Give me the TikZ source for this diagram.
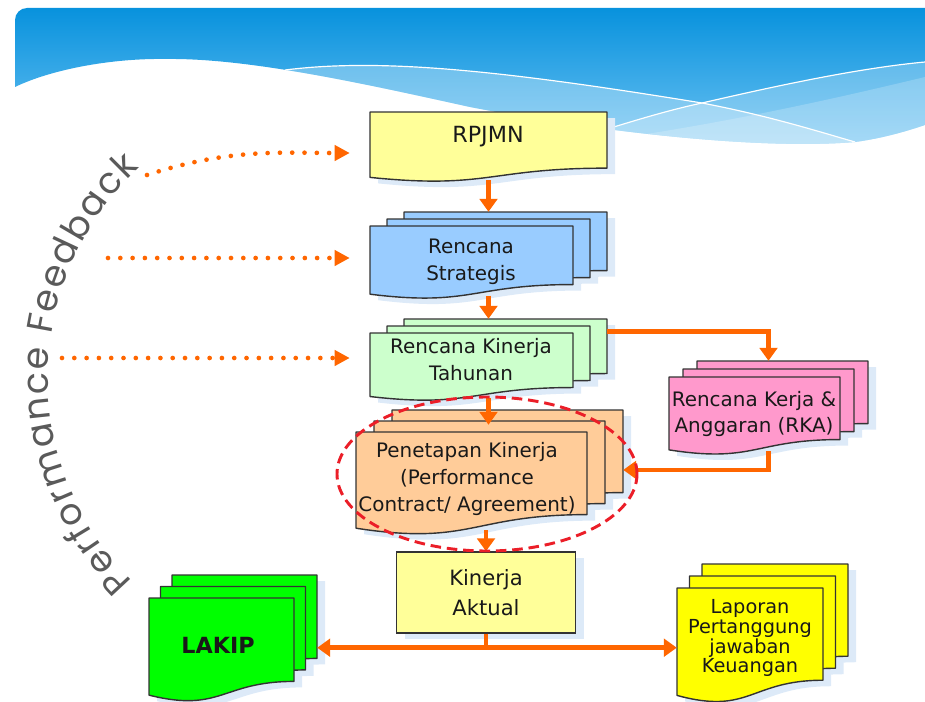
\documentclass[tikz,border=0pt]{standalone}
\usepackage{fontspec}
\usepackage{tikz}
\usetikzlibrary{positioning, calc, fit, arrows.meta, shadows, decorations.text}
\newfontfamily\boxfont{DejaVu Sans}
\newfontfamily\fbfont{Poppins}
\definecolor{FlowOrange}{RGB}{255,102,0}
\definecolor{FocusRed}{RGB}{235,30,40}
\definecolor{PaleYellow}{RGB}{255,255,153}
\definecolor{SkyBlue}{RGB}{153,204,255}
\definecolor{MintGreen}{RGB}{204,255,204}
\definecolor{Peach}{RGB}{255,204,153}
\definecolor{Pink}{RGB}{255,153,204}
\definecolor{LimeGreen}{RGB}{0,255,0}
\definecolor{BrightYellow}{RGB}{255,255,0}
\definecolor{HeaderTop}{RGB}{8,146,221}
\definecolor{HeaderBottom}{RGB}{110,195,243}
\definecolor{SoftShadow}{RGB}{221,234,248}
\definecolor{FeedbackGrey}{RGB}{90,90,90}
\tikzset{
    sheet/.style={
        draw=black!80, line width=1.2pt, line join=round
    },
    sheetshadow/.style={
        fill=SoftShadow
    },
    lbl/.style={
        font=\boxfont\fontsize{17}{23}\selectfont, align=center, text=black!90, inner sep=0pt
    },
    flow/.style={
        -{Triangle[length=11pt,width=15pt]}, FlowOrange, line width=4pt
    },
    fbarrow/.style={
        -{Triangle[length=13pt,width=13pt]}, FlowOrange, line width=4pt,
        line cap=round, dash pattern=on 0pt off 10.5pt, shorten >=0.6cm
    }
}
% one page with a wavy bottom: x, y (top left, measured downwards), w, h, style
\newcommand{\docpage}[5]{%
  \path[#5] ({#1},{-(#2)}) -- ({#1+#3},{-(#2)}) -- ({#1+#3},{-(#2)-0.802*#4})
    .. controls ({#1+0.5*#3},{-(#2)-0.802*#4}) and ({#1+0.5*#3},{-(#2)-1.107*#4})
    .. ({#1},{-(#2)-0.934*#4}) -- cycle;}
% three pages: name, x, y, w, h, dx, dy, fill
\newcommand{\docstack}[8]{%
  \foreach \k in {2,1,0}{\docpage{#2+\k*#6+8}{#3-\k*#7+6}{#4}{#5}{sheetshadow}}%
  \foreach \k in {2,1,0}{\docpage{#2+\k*#6}{#3-\k*#7}{#4}{#5}{sheet, fill=#8}}%
  \node[inner sep=0pt, fit={({#2},{-(#3-2*#7)}) ({#2+2*#6+#4},{-(#3)-0.95*#5})}] (#1) {};%
}

\begin{document}
\begin{tikzpicture}[
        x=0.03cm, y=0.03cm,
        % Kotak biasa
        box/.style={
            lbl, draw=black!80, line width=1.2pt, fill=PaleYellow,
            drop shadow={shadow xshift=0.24cm, shadow yshift=-0.18cm, fill=SoftShadow, opacity=1}
        },
        % Elips fokus
        focus/.style={
            draw=FocusRed, line width=2.5pt, dash pattern=on 9pt off 5pt
        }
    ]
    \useasboundingbox (0,0) rectangle (925,-702);

    % --- 1. HEADER ---
    \begin{scope}
        \clip (15,-87) -- (15,-20) arc[start angle=180, end angle=90, radius=12] -- (925,-8)
            -- (925,-125) .. controls (910,-130) and (885,-138) .. (855,-142)
            .. controls (760,-150) and (600,-132) .. (470,-107)
            .. controls (370,-85) and (250,-58) .. (167,-59)
            .. controls (110,-58) and (50,-70) .. (15,-87) -- cycle;
        \shade[top color=HeaderTop, bottom color=HeaderBottom] (0,-8) rectangle (925,-150);
        \fill[white, opacity=0.3] (285,-70) .. controls (380,-58) and (500,-70) .. (702,-103)
            .. controls (770,-116) and (820,-132) .. (855,-142) -- (855,-170) -- (285,-170) -- cycle;
        \fill[white, opacity=0.25] (540,-150) .. controls (620,-125) and (660,-112) .. (702,-103)
            .. controls (780,-85) and (860,-68) .. (925,-62) -- (925,-170) -- (540,-170) -- cycle;
        \fill[white, opacity=0.2] (640,-135) .. controls (750,-118) and (850,-95) .. (925,-77)
            -- (925,-170) -- (640,-170) -- cycle;
        \draw[white, line width=1pt] (285,-70) .. controls (380,-58) and (500,-70) .. (702,-103)
            .. controls (770,-116) and (820,-132) .. (855,-142);
        \draw[white, line width=1pt] (540,-150) .. controls (620,-125) and (660,-112) .. (702,-103)
            .. controls (780,-85) and (860,-68) .. (925,-62);
    \end{scope}

    % --- 2. PERFORMANCE FEEDBACK ---
    \path[decorate, decoration={text along path, text align=fit to path, text color=FeedbackGrey,
            text={|\fbfont\fontsize{31}{31}\selectfont|Performance Feedback}}]
        ({336+288*cos(225)},{-378+288*sin(225)}) arc[start angle=225, end angle=133, radius=288];

    % --- 3. DOKUMEN ---
    \docpage{378}{118}{237}{70}{sheetshadow}
    \docpage{370}{112}{237}{70}{sheet, fill=PaleYellow}
    \node[inner sep=0pt, fit={(370,-112) (607,-180)}] (rpjmn) {};
    \docstack{strat}{370}{226}{203}{73}{17}{7}{SkyBlue}
    \docstack{tahunan}{370}{333}{203}{68}{17}{7}{MintGreen}
    \docstack{penet}{356}{432}{231}{103}{18}{11}{Peach}
    \docstack{rka}{669}{377}{171}{78}{14}{8}{Pink}
    \docstack{lakip}{149}{598}{145}{104}{11.5}{11.5}{LimeGreen}
    \docstack{lap}{677}{588}{146}{115}{12.5}{12}{BrightYellow}

    \node[lbl, font=\boxfont\fontsize{19}{23}\selectfont] (rpjmn-t) at (488,-137) {RPJMN};
    \node[lbl] (strat-t) at (471,-262) {Rencana\\Strategis};
    \node[lbl] (tahunan-t) at (471,-360) {Rencana Kinerja\\Tahunan};
    \node[lbl] (penet-t) at (467,-479) {Penetapan Kinerja\\(Performance\\Contract/ Agreement)};
    \node[lbl] (rka-t) at (754,-414) {Rencana Kerja \&\\Anggaran (RKA)};
    \node[lbl, font=\boxfont\bfseries\fontsize{19}{23}\selectfont] (lakip-t) at (218,-645) {LAKIP};
    \node[lbl, font=\boxfont\fontsize{16.5}{17}\selectfont] (lap-t) at (750,-638) {Laporan\\Pertanggung\\jawaban\\Keuangan};
    \node[box, font=\boxfont\fontsize{18}{25}\selectfont, minimum width=5.37cm, minimum height=2.43cm] (aktual) at (486,-592.5) {Kinerja\\Aktual};

    % --- 4. PANAH ---
    \draw[flow] (rpjmn.south) -- (strat.north);
    \draw[flow] (strat.south) -- (tahunan.north);
    \draw[flow, shorten >=-0.45cm] (tahunan.south) -- (tahunan.south |- penet.north);
    \draw[flow] (aktual.north |- penet.south) -- (aktual.north);
    \draw[flow] ([yshift=-0.39cm]tahunan.north east) -| (rka.north);
    \draw[flow] (rka.south) |- (penet.east);
    \coordinate (split) at ($(aktual.south)+(0,-14)$);
    \draw[FlowOrange, line width=4pt] (aktual.south) -- (split);
    \draw[flow] (split) -- (split -| lakip.east);
    \draw[flow] (split) -- (split -| lap.west);

    % umpan balik
    \coordinate (fb1) at (147,-175);
    \coordinate (fb2) at (108,-258);
    \coordinate (fb3) at (62,-358);
    \draw[fbarrow] (fb1) to[out=18, in=180] ([yshift=-0.21cm]rpjmn.west);
    \draw[fbarrow] (fb2) -- (fb2 -| strat.west);
    \draw[fbarrow] (fb3) -- (fb3 -| tahunan.west);

    \draw[focus] (487,-474) ellipse [x radius=150, y radius=77];

\end{tikzpicture}
\end{document}
